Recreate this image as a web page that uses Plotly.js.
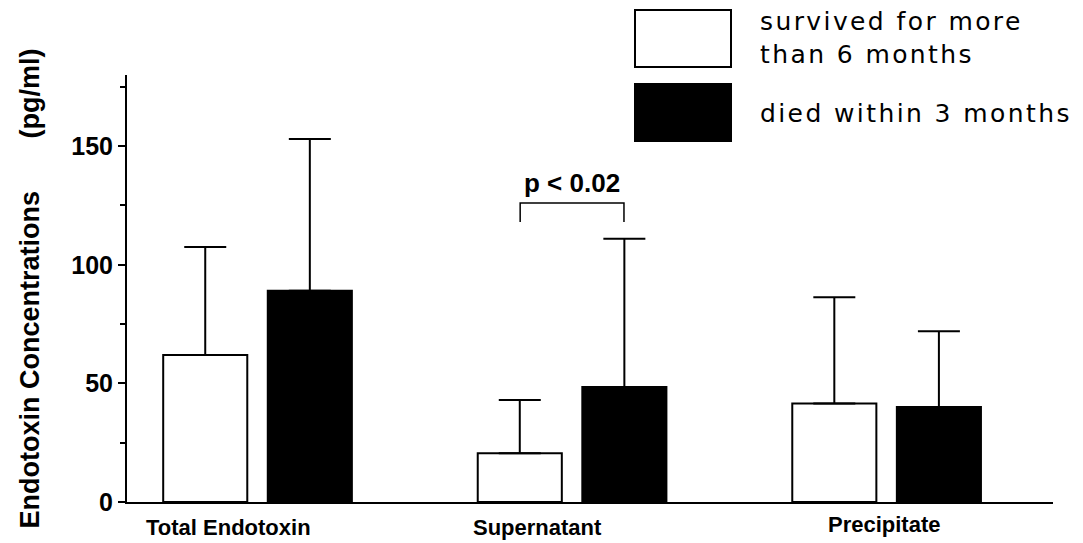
<!DOCTYPE html>
<html>
<head>
<meta charset="utf-8">
<script src="https://cdn.plot.ly/plotly-3.0.1.min.js"></script>
<style>
  html, body { margin: 0; padding: 0; background: #fff; }
  #chart { width: 1083px; height: 543px; }
  g.annotation[data-index="1"] text, g.annotation[data-index="2"] text { letter-spacing: 2.4px; }
</style>
</head>
<body>
<div id="chart"></div>
<script>
// ---- data ----
const categories = ["Total Endotoxin", "Supernatant", "Precipitate"];
const survivedMean = [62, 20.5, 41.5];
const survivedSD = [45.5, 22.5, 44.8];
const diedMean = [89, 48.5, 40];
const diedSD = [64, 62.5, 32];
const seriesNames = ["survived for more<br>than 6 months", "died within 3 months"];
const yTickVals = [0, 50, 100, 150];
const pLabel = "p < 0.02";

const errStyle = { type: "data", symmetric: false, arrayminus: [0, 0, 0], color: "#000", thickness: 2, width: 21 };

const traces = [
  {
    type: "bar", name: seriesNames[0], x: categories, y: survivedMean,
    marker: { color: "#fff", line: { color: "#000", width: 2 } },
    error_y: Object.assign({}, errStyle, { array: survivedSD }),
    showlegend: false, hoverinfo: "skip"
  },
  {
    type: "bar", name: seriesNames[1], x: categories, y: diedMean,
    marker: { color: "#000", line: { color: "#000", width: 2 } },
    error_y: Object.assign({}, errStyle, { array: diedSD }),
    showlegend: false, hoverinfo: "skip"
  }
];

const layout = {
  width: 1083, height: 543,
  margin: { l: 127, r: 30, t: 75, b: 41 },
  paper_bgcolor: "#fff", plot_bgcolor: "#fff",
  barmode: "group", bargap: 0.335, bargroupgap: 0.196,
  showlegend: false,
  font: { family: "Liberation Sans, Arial, sans-serif", color: "#000" },
  xaxis: {
    type: "category", range: [-0.415, 2.529],
    showline: true, linecolor: "#000", linewidth: 2,
    ticks: "", showgrid: false, zeroline: false, showticklabels: false
  },
  yaxis: {
    range: [0, 180], tickvals: yTickVals,
    showline: true, linecolor: "#000", linewidth: 2,
    ticks: "outside", ticklen: 7, tickwidth: 2, tickcolor: "#000",
    minor: { dtick: 25, ticks: "outside", ticklen: 5, tickwidth: 2, tickcolor: "#000", showgrid: false },
    showgrid: false, zeroline: false,
    tickfont: { size: 25, family: "Liberation Sans, Arial, sans-serif", weight: "bold" },
    title: { text: "Endotoxin Concentrations\u00a0\u00a0\u00a0\u00a0\u00a0\u00a0\u00a0(pg/ml)", font: { size: 27, weight: "bold" }, standoff: 24 }
  },
  annotations: [
    { text: pLabel, x: 1, y: 134.5, xref: "x", yref: "y", showarrow: false,
      font: { size: 26, weight: "bold" } },
    { text: seriesNames[0], xref: "paper", yref: "paper", xanchor: "left", yanchor: "middle",
      align: "left", showarrow: false, font: { size: 25, family: "DejaVu Sans, sans-serif" } },
    { text: seriesNames[1], xref: "paper", yref: "paper", xanchor: "left", yanchor: "middle",
      align: "left", showarrow: false, font: { size: 25, family: "DejaVu Sans, sans-serif" } }
  ]
};

// category labels (placed like the original figure, slightly offset from the bar groups)
const labelShift = [-29, -35, -2];
const labelLift = [-11, -11, -8];
categories.forEach((c, i) => {
  layout.annotations.push({
    text: c, x: c, xref: "x", y: 0, yref: "y", yanchor: "top", yshift: labelLift[i], xshift: labelShift[i],
    showarrow: false, font: { size: 22, weight: "bold" }
  });
});

// legend boxes and the significance bracket
const plotW = 1083 - 127 - 30, plotH = 543 - 75 - 41;
const px = v => (v - 127) / plotW;
const py = v => (543 - 41 - v) / plotH;
layout.shapes = [
  { type: "rect", xref: "paper", yref: "paper", x0: px(635), x1: px(731), y0: py(67), y1: py(10),
    fillcolor: "#fff", line: { color: "#000", width: 2 } },
  { type: "rect", xref: "paper", yref: "paper", x0: px(635), x1: px(731), y0: py(141), y1: py(84),
    fillcolor: "#000", line: { color: "#000", width: 2 } },
  { type: "path", xref: "x", yref: "y",
    path: "M 0.835,118 L 0.835,126 L 1.165,126 L 1.165,118", line: { color: "#000", width: 1.5 } }
];
layout.annotations[1].x = px(758); layout.annotations[1].y = py(38);
layout.annotations[2].x = px(758); layout.annotations[2].y = py(113);

Plotly.newPlot("chart", traces, layout, { displayModeBar: false, staticPlot: true });
</script>
</body>
</html>
